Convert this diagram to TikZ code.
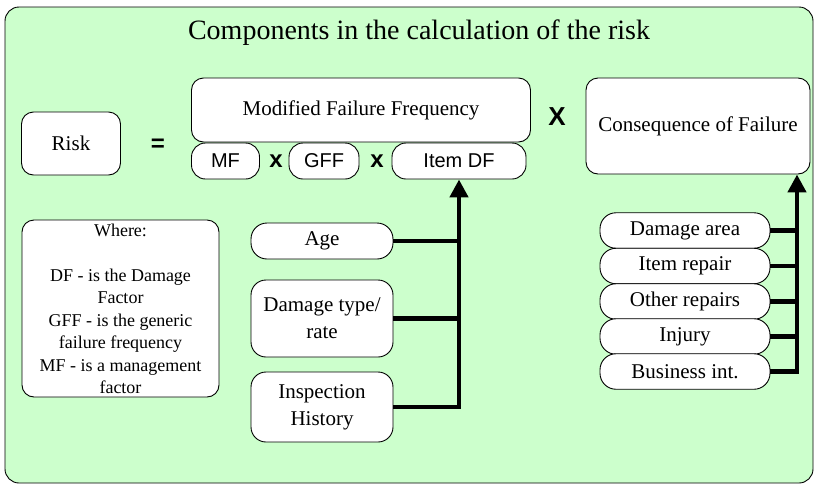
\documentclass[tikz,border=0pt]{standalone}
\usepackage{fontspec}
\setmainfont{Liberation Serif}
\setsansfont{Liberation Sans}
\usetikzlibrary{arrows.meta}
\definecolor{bggreen}{RGB}{204,255,204}
\begin{document}
\begin{tikzpicture}[x=1pt,y=-1pt,
  box/.style={draw, line width=0.9pt, fill=white, rounded corners=12pt, inner sep=0pt, align=center, font=\fontsize{21}{27}\selectfont},
  pill/.style={box, rounded corners=16pt},
  sbox/.style={box, rounded corners=14pt, font=\sffamily\fontsize{20}{24}\selectfont},
  op/.style={font=\sffamily\bfseries\fontsize{24}{26}\selectfont, inner sep=0pt},
  conn/.style={line width=4.5pt},
  arr/.style={conn, -{Triangle[length=18pt,width=18pt]}}]
\useasboundingbox (0,0) rectangle (815,485);
\draw[fill=bggreen, line width=0.9pt, rounded corners=14pt] (5,7) rectangle (813,483);
\node[font=\fontsize{28}{32}\selectfont] (title) at (419,33) {Components in the calculation of the risk};
\node[box, minimum width=99pt, minimum height=63pt] (risk) at (71,143.5) {Risk};
\node[op] (eq) at (158,145) {=};
\node[box, minimum width=339pt, minimum height=64pt] (mff) at (361,110) {Modified Failure Frequency};
\node[sbox, minimum width=68pt, minimum height=36pt] (mf) at (225.5,161) {MF};
\node[op] (x1) at (276,161) {x};
\node[sbox, minimum width=70pt, minimum height=36pt] (gff) at (324,161) {GFF};
\node[op] (x2) at (377,161) {x};
\node[sbox, minimum width=134pt, minimum height=36pt] (idf) at (459,161) {Item DF};
\node[op, font=\sffamily\bfseries\fontsize{26}{28}\selectfont] (xx) at (557,117) {X};
\node[box, minimum width=224pt, minimum height=96pt] (cq) at (698,126) {Consequence of Failure};
\node[box, minimum width=197pt, minimum height=177pt] (where) at (120.5,308.5) {};
\node[anchor=north, inner sep=0pt, align=center, font=\fontsize{18}{22.4}\selectfont] (wtext) at (120.5,224) {Where:\\[22.4pt]DF - is the Damage\\Factor\\GFF - is the generic\\failure frequency\\MF - is a management\\factor};
\node[pill, minimum width=142pt, minimum height=36pt] (age) at (322,241) {Age};
\node[box, rounded corners=15pt, minimum width=142pt, minimum height=77pt] (dmg) at (322,318.5) {Damage type/\\rate};
\node[box, rounded corners=15pt, minimum width=142pt, minimum height=70pt] (insp) at (322,407) {Inspection\\History};
\node[pill, minimum width=170pt, minimum height=35.5pt] (da) at (685,230.5) {Damage area};
\node[pill, minimum width=170pt, minimum height=35.5pt] (ir) at (685,266) {Item repair};
\node[pill, minimum width=170pt, minimum height=35.5pt] (orp) at (685,301.5) {Other repairs};
\node[pill, minimum width=170pt, minimum height=35.5pt] (inj) at (685,336.5) {Injury};
\node[pill, minimum width=170pt, minimum height=35.5pt] (bi) at (685,371.5) {Business int.};
\coordinate (cv) at (797,0);
% left connectors
\draw[arr] (insp.east) -| (idf.south);
\draw[conn] (age.east) -- (age.east -| idf.south);
\draw[conn] (dmg.east) -- (dmg.east -| idf.south);
% right connectors
\draw[arr] (bi.east) -| (cq.south -| cv);
\draw[conn] (da.east) -- (da.east -| cv);
\draw[conn] (ir.east) -- (ir.east -| cv);
\draw[conn] (orp.east) -- (orp.east -| cv);
\draw[conn] (inj.east) -- (inj.east -| cv);
\end{tikzpicture}
\end{document}
